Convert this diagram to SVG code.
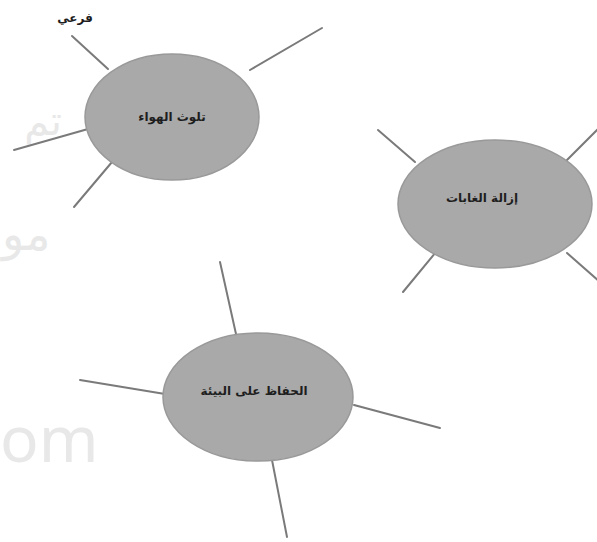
<svg xmlns="http://www.w3.org/2000/svg" width="597" height="542" viewBox="0 0 597 542">
<style>
.wm{font-family:"Noto Sans","DejaVu Sans",sans-serif;fill:#e8e8e8}
.node ellipse{fill:#a9a9a9;stroke:#999999;stroke-width:1.5}
.lbl{font-family:"DejaVu Sans","Noto Sans",sans-serif;font-weight:bold;font-size:12px;fill:#1e1e1e;text-anchor:middle}
.conn line{stroke:#7a7a7a;stroke-width:2;stroke-linecap:round}
</style>
<rect width="597" height="542" fill="#ffffff"/>
<g id="watermark">
<text class="wm" x="62" y="135" font-size="40" text-anchor="end">تم</text>
<text class="wm" x="2" y="250" font-size="46">مو</text>
<text class="wm" x="0" y="462" font-size="64">om</text>
</g>
<g id="connectors" class="conn">
<line x1="72" y1="36" x2="108" y2="69"/>
<line x1="250" y1="70" x2="322" y2="28"/>
<line x1="14" y1="150" x2="88" y2="129"/>
<line x1="74" y1="207" x2="112" y2="162"/>
<line x1="378" y1="130" x2="415" y2="162"/>
<line x1="567" y1="160" x2="600" y2="127"/>
<line x1="403" y1="292" x2="436" y2="252"/>
<line x1="567" y1="253" x2="600" y2="282"/>
<line x1="220" y1="262" x2="236" y2="334"/>
<line x1="80" y1="380" x2="165" y2="394"/>
<line x1="354" y1="405" x2="440" y2="428"/>
<line x1="272" y1="460" x2="287" y2="537"/>
</g>
<g id="node-air" class="node">
<ellipse cx="172" cy="117" rx="87" ry="63"/>
<text class="lbl" x="172" y="121">تلوث الهواء</text>
</g>
<g id="node-forest" class="node">
<ellipse cx="495" cy="204" rx="97" ry="64"/>
<text class="lbl" x="482" y="202">إزالة الغابات</text>
</g>
<g id="node-env" class="node">
<ellipse cx="258" cy="397" rx="95" ry="64"/>
<text class="lbl" x="254" y="395">الحفاظ على البيئة</text>
</g>
<g id="label-sub">
<text class="lbl" x="75" y="22" font-size="10">فرعي</text>
</g>
</svg>
